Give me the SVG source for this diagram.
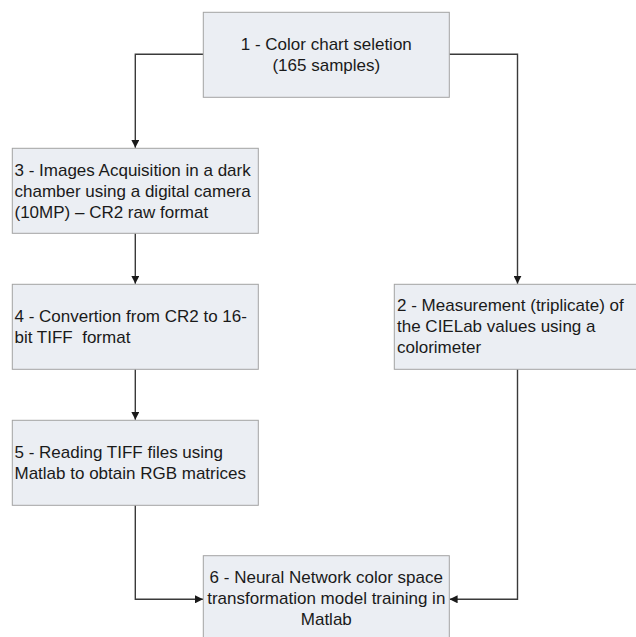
<svg xmlns="http://www.w3.org/2000/svg" width="636" height="637" viewBox="0 0 636 637">
<style>
.box{fill:#ebeef3;stroke:#a3a3a3;stroke-width:1}
.t{font-family:"Liberation Sans",Arial,sans-serif;font-size:17px;fill:#1a1a1a;white-space:pre}
.c{text-anchor:middle}
.edge{fill:none;stroke:#3a3a3a;stroke-width:1.4}
</style>
<defs>
<marker id="ah" markerUnits="userSpaceOnUse" markerWidth="8" markerHeight="8" refX="8" refY="4" orient="auto">
<path d="M0,0 L8,4 L0,8 z" fill="#1a1a1a"/>
</marker>
</defs>
<rect width="636" height="637" fill="#ffffff"/>
<g id="connectors">
<path class="edge" d="M203.3,54.3 H135.3 V147.8" marker-end="url(#ah)"/>
<path class="edge" d="M449.3,54.3 H517.5 V283.8" marker-end="url(#ah)"/>
<path class="edge" d="M135.3,233.3 V283.8" marker-end="url(#ah)"/>
<path class="edge" d="M135.3,369 V419.8" marker-end="url(#ah)"/>
<path class="edge" d="M135.3,505 V599.3 H203" marker-end="url(#ah)"/>
<path class="edge" d="M517.5,369 V599.3 H449.6" marker-end="url(#ah)"/>
</g>
<g id="node1">
<rect class="box" x="203.3" y="12.3" width="246" height="85"/>
<text class="t c" x="326.3" y="49.8">1 - Color chart seletion</text>
<text class="t c" x="326.3" y="70.8">(165 samples)</text>
</g>
<g id="node3">
<rect class="box" x="12.3" y="148.3" width="246" height="85"/>
<text class="t" x="14.5" y="175.5">3 - Images Acquisition in a dark</text>
<text class="t" x="14.5" y="196.5">chamber using a digital camera</text>
<text class="t" x="14.5" y="217.5">(10MP) – CR2 raw format</text>
</g>
<g id="node4">
<rect class="box" x="12.3" y="284.3" width="246" height="85"/>
<text class="t" x="14.5" y="321.5">4 - Convertion from CR2 to 16-</text>
<text class="t" x="14.5" y="342.5">bit TIFF  format</text>
</g>
<g id="node2">
<rect class="box" x="394.3" y="284.3" width="246" height="85"/>
<text class="t" x="397" y="311">2 - Measurement (triplicate) of</text>
<text class="t" x="397" y="332">the CIELab values using a</text>
<text class="t" x="397" y="353">colorimeter</text>
</g>
<g id="node5">
<rect class="box" x="12.3" y="420.3" width="246" height="85"/>
<text class="t" x="14.5" y="457.5">5 - Reading TIFF files using</text>
<text class="t" x="14.5" y="478.5">Matlab to obtain RGB matrices</text>
</g>
<g id="node6">
<rect class="box" x="203.3" y="555.7" width="246" height="85"/>
<text class="t c" x="326.3" y="582.5">6 - Neural Network color space</text>
<text class="t c" x="326.3" y="603.5">transformation model training in</text>
<text class="t c" x="326.3" y="624.5">Matlab</text>
</g>
</svg>
